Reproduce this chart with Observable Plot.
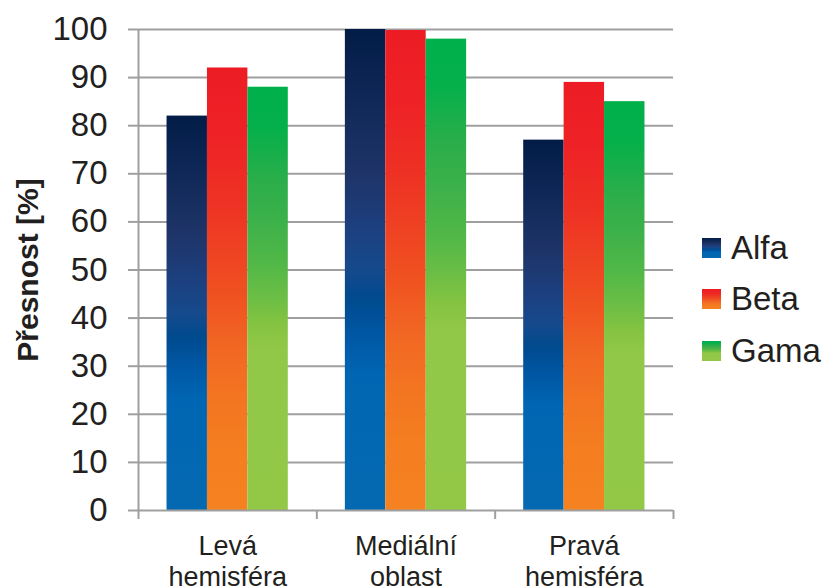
<!DOCTYPE html>
<html>
<head>
<meta charset="utf-8">
<script src="https://cdn.jsdelivr.net/npm/d3@7"></script>
<script src="https://cdn.jsdelivr.net/npm/@observablehq/plot@0.6"></script>
<style>
  html, body { margin: 0; padding: 0; background: #fff; }
  #chart { position: relative; width: 829px; height: 587px; overflow: hidden; font-family: "Liberation Sans", Arial, sans-serif; color: #231f20; }
  #legend { position: absolute; left: 702px; top: 222px; }
  .item { display: flex; align-items: center; height: 51.5px; font-size: 33px; }
  .swatch { width: 19px; height: 20px; margin-right: 10px; }
</style>
</head>
<body>
<div id="chart"></div>
<script>
// Accuracy per brain region and per method
const categories = ["Levá\nhemisféra", "Mediální\noblast", "Pravá\nhemisféra"];
const seriesNames = ["Alfa", "Beta", "Gama"];
const alfa = [82, 100, 77];
const beta = [92, 99.8, 89];
const gama = [88, 98, 85];
const yTicks = [0, 10, 20, 30, 40, 50, 60, 70, 80, 90, 100];

// Vertical gradient stops for each series (top → bottom)
const gradients = {
  Alfa: [[0, "#021c47"], [0.3, "#1e3468"], [0.42, "#1c4080"], [0.5, "#154a8c"], [0.56, "#004a8e"], [0.64, "#0058a5"], [0.72, "#0066b3"], [1, "#0569b1"]],
  Beta: [[0, "#ed1c24"], [0.15, "#ee2226"], [0.3, "#ee3124"], [0.42, "#ef4323"], [0.52, "#f05220"], [0.62, "#f16523"], [0.74, "#f37421"], [0.85, "#f47d20"], [1, "#f58220"]],
  Gama: [[0, "#00b04b"], [0.1, "#05b04b"], [0.22, "#2aae4a"], [0.32, "#3db14a"], [0.42, "#52b847"], [0.5, "#6cbe45"], [0.56, "#84c341"], [0.62, "#92c848"], [1, "#93c847"]]
};

const values = [alfa, beta, gama];
const groupWidth = 0.68;           // share of each category band taken by its bars
const barWidth = groupWidth / seriesNames.length;

const rows = categories.flatMap((category, i) =>
  seriesNames.map((series, k) => {
    const x1 = i + (1 - groupWidth) / 2 + k * barWidth;
    return {category, series, value: values[k][i], x1, x2: x1 + barWidth};
  })
);

const gridColor = "#9f9f9f";

const defs = () => {
  const d = d3.create("svg:defs");
  for (const [name, stops] of Object.entries(gradients)) {
    const g = d.append("linearGradient")
      .attr("id", `grad-${name}`)
      .attr("x1", 0).attr("y1", 0).attr("x2", 0).attr("y2", 1);
    for (const [offset, color] of stops) {
      g.append("stop").attr("offset", offset).attr("stop-color", color);
    }
  }
  return d.node();
};

const chart = Plot.plot({
  width: 829,
  height: 587,
  marginLeft: 138,
  marginRight: 156,
  marginTop: 29,
  marginBottom: 77,
  x: {domain: [0, categories.length]},
  y: {domain: [0, 100]},
  style: {fontFamily: "'Liberation Sans', Arial, sans-serif", color: "#231f20", background: "#fff", overflow: "visible"},
  marks: [
    defs,
    Plot.ruleY(yTicks.filter((t) => t > 0), {stroke: gridColor, strokeWidth: 2}),
    ...seriesNames.map((name) =>
      Plot.rectY(rows.filter((d) => d.series === name), {
        x1: "x1", x2: "x2", y: "value", fill: `url(#grad-${name})`
      })
    ),
    Plot.ruleY([0], {stroke: gridColor, strokeWidth: 2}),
    Plot.ruleX([0], {y1: 0, y2: 100, stroke: gridColor, strokeWidth: 2}),
    Plot.axisX({ticks: d3.range(categories.length + 1), tickSize: 9, tickFormat: () => "", stroke: gridColor, strokeWidth: 2, label: null}),
    Plot.axisY({ticks: yTicks, tickSize: 10, tickPadding: 21, fontSize: 33, stroke: gridColor, fill: "#231f20", strokeWidth: 2, label: null}),
    Plot.text(categories, {
      x: (d, i) => i + 0.5,
      frameAnchor: "bottom",
      lineAnchor: "top",
      dy: 22,
      fontSize: 27,
      lineHeight: 1.15,
      fill: "#231f20"
    }),
    Plot.text(["Přesnost [%]"], {
      frameAnchor: "left",
      textAnchor: "middle",
      rotate: -90,
      dx: -110,
      fontSize: 30,
      fontWeight: "bold",
      fill: "#231f20"
    })
  ]
});

const root = document.getElementById("chart");
root.appendChild(chart);

// Legend with gradient swatches
const legend = document.createElement("div");
legend.id = "legend";
for (const name of seriesNames) {
  const item = document.createElement("div");
  item.className = "item";
  const sw = document.createElement("span");
  sw.className = "swatch";
  sw.style.background = `linear-gradient(to bottom, ${gradients[name].map(([o, c]) => `${c} ${o * 100}%`).join(", ")})`;
  const label = document.createElement("span");
  label.textContent = name;
  item.append(sw, label);
  legend.appendChild(item);
}
root.appendChild(legend);
</script>
</body>
</html>
